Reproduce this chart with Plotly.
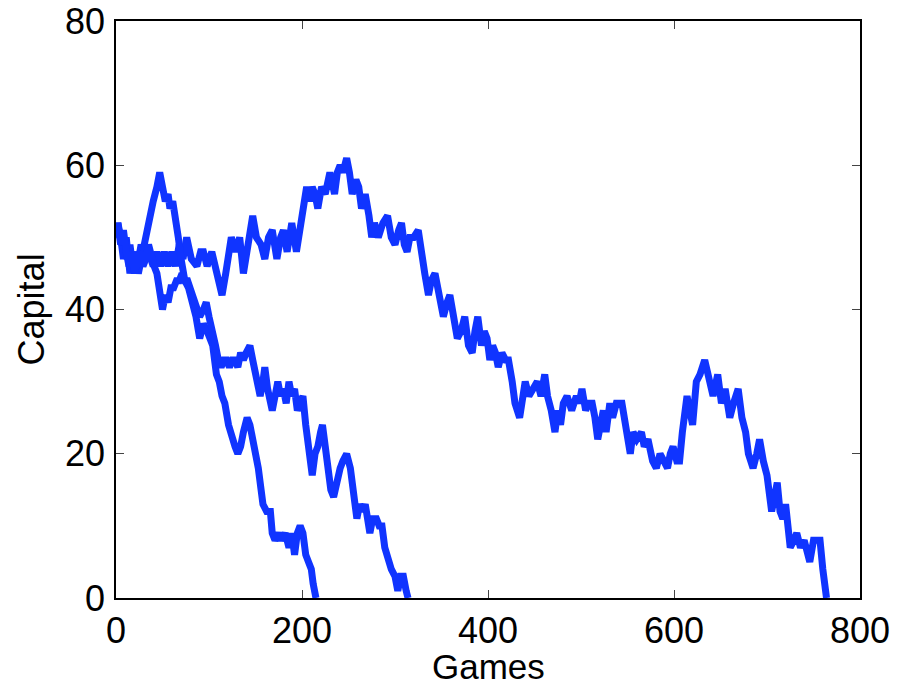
import plotly.graph_objects as go

# Walk 1 (longest, ruined at ~764 games)
games_a = [0,2,5,8,11,15,19,23,27,31,35,40,44,48,52,56,60,64,68,72,76,81,87,91,94,98,103,108,114,118,121,124,129,133,137,142,147,151,156,160,164,168,173,177,180,184,189,194,199,205,208,211,214,217,221,225,230,233,235,238,241,244,248,251,254,258,261,264,268,272,275,278,282,287,292,296,300,304,307,310,313,316,320,325,328,332,336,339,343,346,349,352,356,359,363,367,371,375,379,383,386,389,393,396,399,402,405,408,411,415,419,422,426,429,434,437,440,444,448,453,457,461,464,468,472,475,478,481,485,490,495,498,501,505,508,512,515,518,521,524,527,531,534,538,544,549,553,556,560,565,568,572,577,581,585,589,593,596,599,603,606,609,612,614,617,620,624,628,633,636,639,642,647,651,655,660,664,669,673,677,680,685,689,692,696,700,705,708,711,714,717,720,725,729,732,736,740,746,750,754,757,760,764]
capital_a = [50,52,50,47,50,45,48,46,49,47,48,46,48,46,48,46,48,46,49,47,50,47,46,48,48,46,48,45,42,45,48,50,48,50,45,49,53,50,49,47,50,51,47,50,51,48,52,48,52,57,55,57,56,54,57,56,59,57,56,59,60,59,61,59,56,58,57,54,56,53,50,52,50,52,53,50,49,51,52,49,48,50,50,51,48,45,42,44,45,43,42,39,41,42,39,36,37,39,35,34,37,39,35,37,36,33,35,34,32,34,33,33,30,27,25,28,30,28,29,30,28,31,28,26,23,26,24,27,28,26,28,27,29,26,27,27,25,22,24,26,23,27,25,27,27,23,20,23,22,23,21,22,19,18,20,19,18,20,21,19,19,23,26,28,26,24,30,31,33,31,30,28,31,27,29,25,27,29,25,23,20,18,20,22,19,17,12,14,16,12,11,13,7,8,9,7,8,5,8,8,8,4,0]

# Walk 2 (early peak, ruined at ~215 games)
games_b = [0,3,6,9,12,15,18,21,24,27,30,33,36,40,44,47,50,53,56,58,61,64,67,70,74,78,82,86,90,94,98,101,104,108,111,114,117,121,125,128,131,134,137,141,144,147,150,153,156,158,162,166,168,171,175,178,182,186,189,192,195,198,201,204,207,210,212,215]
capital_b = [50,51,49,50,47,49,46,48,45,47,48,50,52,55,57,59,57,55,56,54,55,53,50,47,44,43,41,39,36,38,37,36,35,31,30,28,27,24,22,21,20,21,23,25,24,22,21,18,15,13,12,12,9,8,9,8,9,7,9,6,9,10,9,6,5,4,2,0]

# Walk 3 (early dip, ruined at ~314 games)
games_c = [0,2,5,8,11,14,17,20,23,26,29,32,35,38,41,44,47,50,53,56,59,62,65,68,71,74,77,80,84,87,90,94,97,100,104,107,110,113,116,119,122,125,128,131,134,137,140,144,147,150,153,155,158,160,163,166,168,171,174,177,180,183,186,189,192,195,198,201,204,207,211,214,217,220,222,225,228,231,234,237,241,244,248,252,255,259,262,265,268,271,273,276,280,283,286,289,293,296,300,303,306,309,312,314]
capital_c = [50,52,49,51,48,46,48,45,47,48,46,47,49,47,46,45,43,40,42,41,43,43,44,44,45,44,44,43,41,40,39,40,41,39,36,35,33,32,33,33,32,33,33,32,34,33,34,35,33,31,29,28,30,32,29,27,26,28,30,28,29,27,30,28,29,26,27,28,24,21,17,20,21,23,24,21,18,15,14,16,18,19,20,18,15,11,13,12,13,10,9,11,11,10,10,7,5,4,3,1,3,3,1,0]

x_ticks = [0, 200, 400, 600, 800]
y_ticks = [0, 20, 40, 60, 80]

BLUE = "#1034ff"
FONT = "Liberation Sans, Arial, Helvetica, sans-serif"

fig = go.Figure()
for gx, cy in [(games_a, capital_a), (games_b, capital_b), (games_c, capital_c)]:
    fig.add_trace(go.Scatter(x=gx, y=cy, mode="lines",
                             line=dict(color=BLUE, width=7),
                             showlegend=False, hoverinfo="skip"))

axis_common = dict(
    showgrid=False, zeroline=False, automargin=False,
    showline=True, linecolor="black", linewidth=1.5, mirror="ticks",
    ticks="inside", ticklen=8, tickwidth=1, tickcolor="#444",
    tickfont=dict(family=FONT, size=36, color="black"),
)

fig.update_xaxes(range=[0, 800], tickvals=x_ticks, ticktext=[str(v) for v in x_ticks],
                 ticklabelstandoff=0, **axis_common)
fig.update_yaxes(range=[0, 80], tickvals=y_ticks, ticktext=[str(v) for v in y_ticks],
                 ticklabelstandoff=2, **axis_common)

fig.add_annotation(text="Games", xref="paper", yref="paper", x=0.5, y=-0.119,
                   xanchor="center", yanchor="middle", showarrow=False,
                   font=dict(family=FONT, size=35, color="black"))
fig.add_annotation(text="Capital", xref="paper", yref="paper", x=-0.113, y=0.5,
                   xanchor="center", yanchor="middle", textangle=-90, showarrow=False,
                   font=dict(family=FONT, size=36, color="black"))

fig.update_layout(
    width=897, height=687,
    margin=dict(l=116, r=37, t=21, b=89),
    paper_bgcolor="white", plot_bgcolor="white",
)

fig.write_html("out.html")
